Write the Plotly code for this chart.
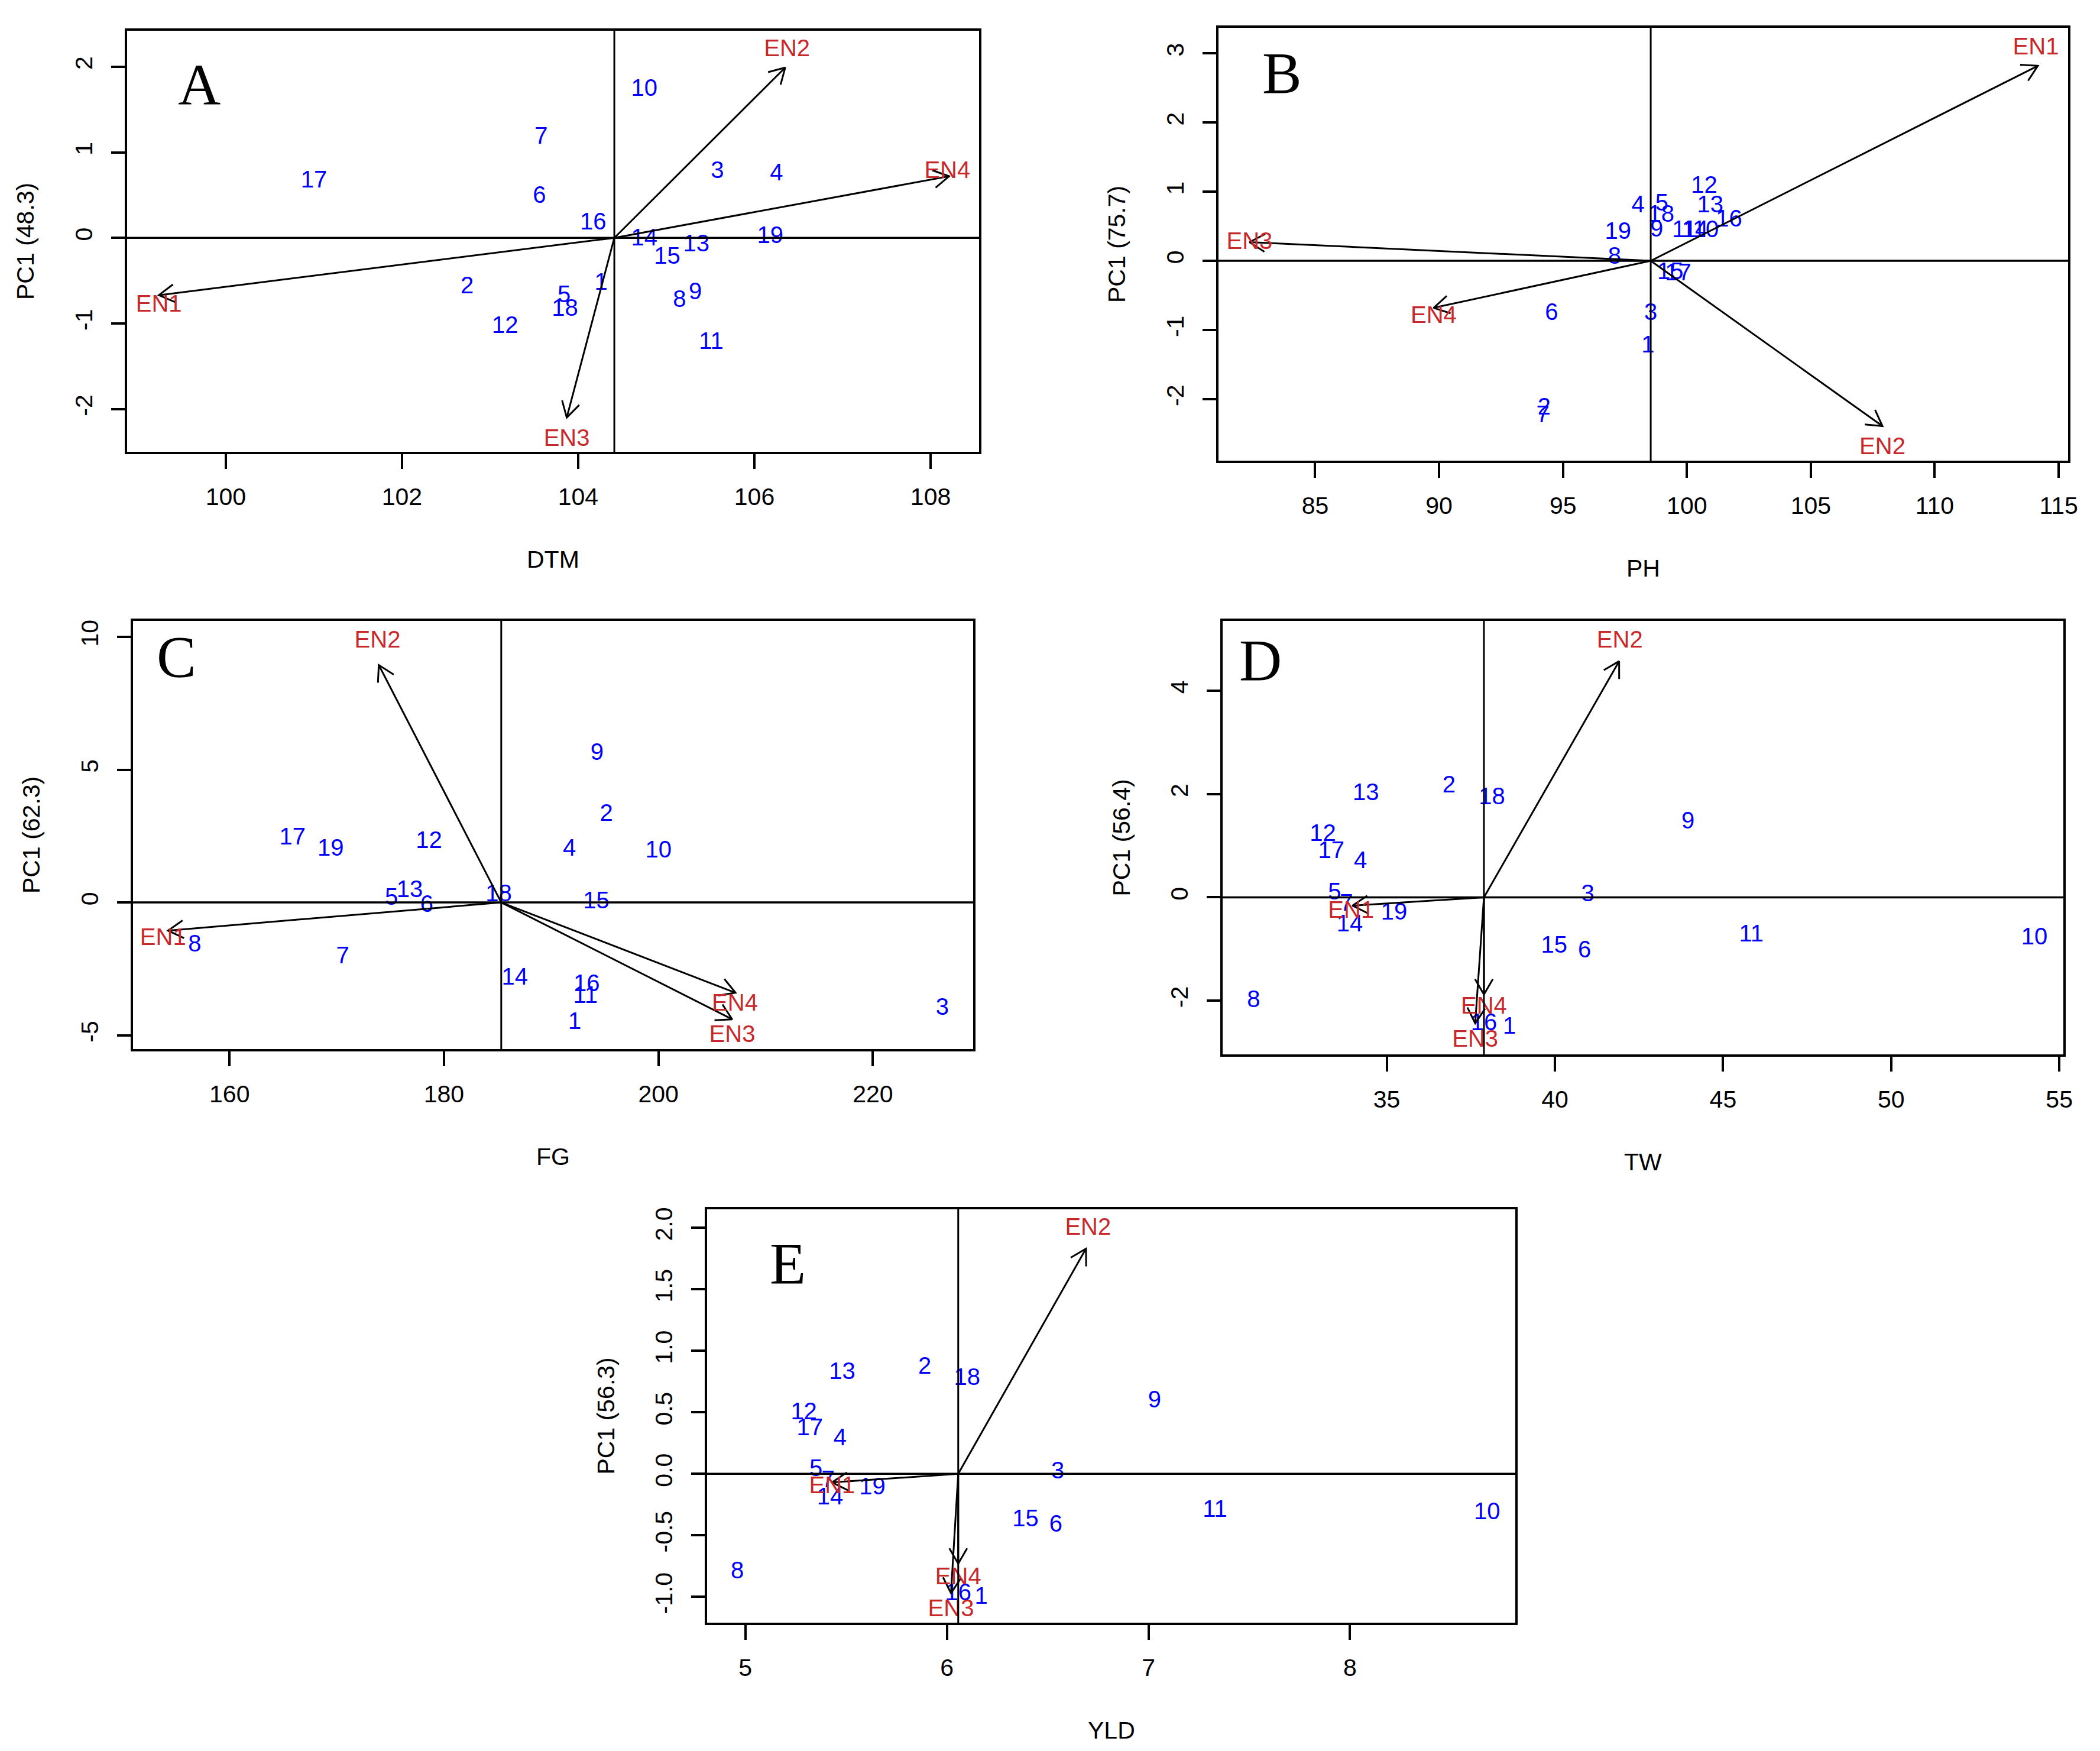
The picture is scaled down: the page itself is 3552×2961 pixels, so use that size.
import math
import plotly.graph_objects as go

W, H = 3552, 2961
PAD = 8                      # default body margin of the html page
FW, FH = W - 2 * PAD, H - 2 * PAD

genotypes = [str(i) for i in range(1, 20)]
envs = ["EN1", "EN2", "EN3", "EN4"]

# A: DTM  (genotypes 1..19)
dtm_x = [104.26, 102.74, 105.58, 106.25, 103.84, 103.56, 103.58, 105.15, 105.33, 104.75,
         105.51, 103.17, 105.34, 104.75, 105.01, 104.17, 101.00, 103.85, 106.18]
dtm_y = [-0.54, -0.58, 0.77, 0.74, -0.68, 0.48, 1.17, -0.74, -0.65, 1.73,
         -1.23, -1.04, -0.09, -0.02, -0.23, 0.17, 0.66, -0.84, 0.01]
dtm_mean = 104.41
dtm_env_x = [99.24, 106.35, 103.87, 108.21]
dtm_env_y = [-0.67, 1.99, -2.10, 0.72]
dtm_lab_x = [99.24, 106.37, 103.87, 108.19]
dtm_lab_y = [-0.79, 2.19, -2.36, 0.77]

# B: PH
ph_x = [98.43, 94.24, 98.54, 98.03, 98.99, 94.54, 94.19, 97.08, 98.78, 100.76,
        99.90, 100.70, 100.94, 100.33, 99.33, 101.70, 99.65, 98.96, 97.22]
ph_y = [-1.24, -2.14, -0.77, 0.79, 0.81, -0.77, -2.25, 0.04, 0.44, 0.43,
        0.43, 1.07, 0.79, 0.43, -0.18, 0.58, -0.20, 0.65, 0.40]
ph_mean = 98.54
ph_env_x = [114.16, 107.89, 82.35, 89.78]
ph_env_y = [2.82, -2.39, 0.27, -0.68]
ph_lab_x = [114.08, 107.89, 82.35, 89.78]
ph_lab_y = [3.07, -2.71, 0.26, -0.81]

# C: FG
fg_x = [192.2, 195.14, 226.48, 191.7, 175.1, 178.4, 170.55, 156.75, 194.27, 200.0,
        193.2, 178.6, 176.8, 186.6, 194.2, 193.3, 165.87, 185.1, 169.43]
fg_y = [-4.54, 3.29, -4.01, 1.99, 0.14, -0.14, -2.06, -1.63, 5.60, 1.91,
        -3.55, 2.27, 0.43, -2.88, 0.0, -3.12, 2.41, 0.28, 1.99]
fg_mean = 185.34
fg_env_x = [154.26, 173.92, 206.88, 207.19]
fg_env_y = [-1.06, 8.94, -4.40, -3.40]
fg_lab_x = [153.8, 173.8, 206.88, 207.13]
fg_lab_y = [-1.38, 9.82, -5.04, -3.86]

# D: TW
tw_x = [38.65, 36.85, 40.98, 34.22, 33.45, 40.88, 33.80, 31.04, 43.96, 54.26,
        45.84, 33.10, 34.38, 33.90, 39.98, 37.89, 33.35, 38.13, 35.22]
tw_y = [-2.53, 2.15, 0.04, 0.68, 0.07, -1.05, -0.14, -2.01, 1.45, -0.80,
        -0.74, 1.21, 2.00, -0.54, -0.96, -2.46, 0.88, 1.92, -0.32]
tw_mean = 37.89
tw_env_x = [33.98, 41.91, 37.63, 37.89]
tw_env_y = [-0.16, 4.57, -2.44, -1.88]
tw_lab_x = [33.94, 41.93, 37.63, 37.89]
tw_lab_y = [-0.28, 4.95, -2.78, -2.13]

# E: YLD
yld_x = [6.17, 5.89, 6.55, 5.47, 5.35, 6.54, 5.41, 4.96, 7.03, 8.68,
         7.33, 5.29, 5.48, 5.42, 6.39, 6.056, 5.32, 6.10, 5.63]
yld_y = [-1.01, 0.86, 0.01, 0.28, 0.03, -0.42, -0.06, -0.80, 0.59, -0.32,
         -0.30, 0.49, 0.82, -0.20, -0.38, -0.98, 0.36, 0.77, -0.12]
yld_mean = 6.056
yld_env_x = [5.43, 6.69, 6.02, 6.056]
yld_env_y = [-0.07, 1.83, -0.97, -0.73]
yld_lab_x = [5.43, 6.70, 6.02, 6.056]
yld_lab_y = [-0.11, 1.99, -1.11, -0.85]


def xdom(left, right):
    return [(left - PAD) / FW, (right - PAD) / FW]


def ydom(top, bottom):
    return [1 - (bottom - PAD) / FH, 1 - (top - PAD) / FH]


panels = [
    dict(letter="A", xt="DTM", yt="PC1 (48.3)", gx=dtm_x, gy=dtm_y, m=dtm_mean,
         ex=dtm_env_x, ey=dtm_env_y, lx=dtm_lab_x, ly=dtm_lab_y,
         xr=[98.88, 108.55], yr=[-2.50, 2.42], xd=xdom(215, 1656), yd=ydom(52, 764),
         xtv=[100, 102, 104, 106, 108], ytv=[-2, -1, 0, 1, 2], yfmt="{:d}", lp=(0.085, 0.872)),
    dict(letter="B", xt="PH", yt="PC1 (75.7)", gx=ph_x, gy=ph_y, m=ph_mean,
         ex=ph_env_x, ey=ph_env_y, lx=ph_lab_x, ly=ph_lab_y,
         xr=[81.1, 115.38], yr=[-2.89, 3.37], xd=xdom(2061, 3498), yd=ydom(47, 779),
         xtv=[85, 90, 95, 100, 105, 110, 115], ytv=[-2, -1, 0, 1, 2, 3], yfmt="{:d}", lp=(0.075, 0.895)),
    dict(letter="C", xt="FG", yt="PC1 (62.3)", gx=fg_x, gy=fg_y, m=fg_mean,
         ex=fg_env_x, ey=fg_env_y, lx=fg_lab_x, ly=fg_lab_y,
         xr=[151.0, 229.35], yr=[-5.52, 10.6], xd=xdom(225, 1646), yd=ydom(1050, 1774),
         xtv=[160, 180, 200, 220], ytv=[-5, 0, 5, 10], yfmt="{:d}", lp=(0.052, 0.917)),
    dict(letter="D", xt="TW", yt="PC1 (56.4)", gx=tw_x, gy=tw_y, m=tw_mean,
         ex=tw_env_x, ey=tw_env_y, lx=tw_lab_x, ly=tw_lab_y,
         xr=[30.12, 55.12], yr=[-3.04, 5.35], xd=xdom(2068, 3490), yd=ydom(1050, 1783),
         xtv=[35, 40, 45, 50, 55], ytv=[-2, 0, 2, 4], yfmt="{:d}", lp=(0.045, 0.909)),
    dict(letter="E", xt="YLD", yt="PC1 (56.3)", gx=yld_x, gy=yld_y, m=yld_mean,
         ex=yld_env_x, ey=yld_env_y, lx=yld_lab_x, ly=yld_lab_y,
         xr=[4.81, 8.82], yr=[-1.21, 2.15], xd=xdom(1196, 2563), yd=ydom(2045, 2744),
         xtv=[5, 6, 7, 8], ytv=[-1.0, -0.5, 0.0, 0.5, 1.0, 1.5, 2.0], yfmt="{:.1f}", lp=(0.100, 0.869)),
]

SANS = "Liberation Sans, Arial, sans-serif"
BLUE = "#0000FF"
RED = "#C8282A"
HEAD = 30  # arrowhead length in px

fig = go.Figure()
layout = dict(width=FW, height=FH, margin=dict(l=0, r=0, t=0, b=0, autoexpand=False),
              paper_bgcolor="white", plot_bgcolor="white", showlegend=False,
              shapes=[], annotations=[])

for i, p in enumerate(panels):
    n = "" if i == 0 else str(i + 1)
    xa, ya = "x" + n, "y" + n

    # genotype labels
    fig.add_trace(go.Scatter(x=p["gx"], y=p["gy"], text=genotypes, mode="text",
                             textfont=dict(family=SANS, size=40, color=BLUE),
                             xaxis=xa, yaxis=ya, hoverinfo="skip"))

    # environment vectors with open heads
    sx = FW * (p["xd"][1] - p["xd"][0]) / (p["xr"][1] - p["xr"][0])
    sy = FH * (p["yd"][1] - p["yd"][0]) / (p["yr"][1] - p["yr"][0])
    lx, ly, hx, hy = [], [], [], []
    for tx, ty in zip(p["ex"], p["ey"]):
        lx += [p["m"], tx, None]
        ly += [0, ty, None]
        ang = math.atan2(ty * sy, (tx - p["m"]) * sx)
        for s in (1, -1):
            a = ang + math.pi + s * math.pi / 6
            hx += [tx + HEAD * math.cos(a) / sx, tx]
            hy += [ty + HEAD * math.sin(a) / sy, ty]
        hx.append(None)
        hy.append(None)
    fig.add_trace(go.Scatter(x=lx, y=ly, mode="lines", line=dict(color="black", width=3),
                             xaxis=xa, yaxis=ya, hoverinfo="skip"))
    fig.add_trace(go.Scatter(x=hx, y=hy, mode="lines", line=dict(color="black", width=3),
                             xaxis=xa, yaxis=ya, hoverinfo="skip"))

    # environment labels
    fig.add_trace(go.Scatter(x=p["lx"], y=p["ly"], text=envs, mode="text",
                             textfont=dict(family=SANS, size=40, color=RED),
                             xaxis=xa, yaxis=ya, hoverinfo="skip"))

    common = dict(showgrid=False, zeroline=False, showline=True, mirror=True,
                  linecolor="black", linewidth=4, ticks="outside", tickcolor="black",
                  tickwidth=4, tickfont=dict(family=SANS, size=41, color="black"))
    layout["xaxis" + n] = dict(common, domain=p["xd"], range=p["xr"], anchor=ya,
                               tickvals=p["xtv"], ticktext=[str(v) for v in p["xtv"]],
                               ticklen=25, ticklabelstandoff=12)
    layout["yaxis" + n] = dict(common, domain=p["yd"], range=p["yr"], anchor=xa,
                               tickvals=p["ytv"],
                               ticktext=[p["yfmt"].format(v) for v in p["ytv"]],
                               ticklen=23, tickangle=-90, ticklabelstandoff=16)

    # reference lines through the origin of the vectors
    layout["shapes"].append(dict(type="line", xref=xa + " domain", yref=ya, x0=0, x1=1, y0=0, y1=0,
                                 line=dict(color="black", width=3.5)))
    layout["shapes"].append(dict(type="line", xref=xa, yref=ya + " domain", x0=p["m"], x1=p["m"],
                                 y0=0, y1=1, line=dict(color="black", width=3)))

    # axis titles
    layout["annotations"].append(dict(text=p["xt"], xref=xa + " domain", yref=ya + " domain",
                                      x=0.5, y=0, yshift=-182, showarrow=False,
                                      xanchor="center", yanchor="middle",
                                      font=dict(family=SANS, size=41, color="black")))
    layout["annotations"].append(dict(text=p["yt"], xref=xa + " domain", yref=ya + " domain",
                                      x=0, y=0.5, xshift=-172, showarrow=False, textangle=-90,
                                      xanchor="center", yanchor="middle",
                                      font=dict(family=SANS, size=41, color="black")))
    # panel letter
    layout["annotations"].append(dict(text=p["letter"], xref=xa + " domain", yref=ya + " domain",
                                      x=p["lp"][0], y=p["lp"][1], showarrow=False,
                                      xanchor="center", yanchor="middle",
                                      font=dict(family="Liberation Serif, Times New Roman, serif",
                                                size=100, color="black")))

fig.update_layout(**layout)
fig.write_html("out.html")
